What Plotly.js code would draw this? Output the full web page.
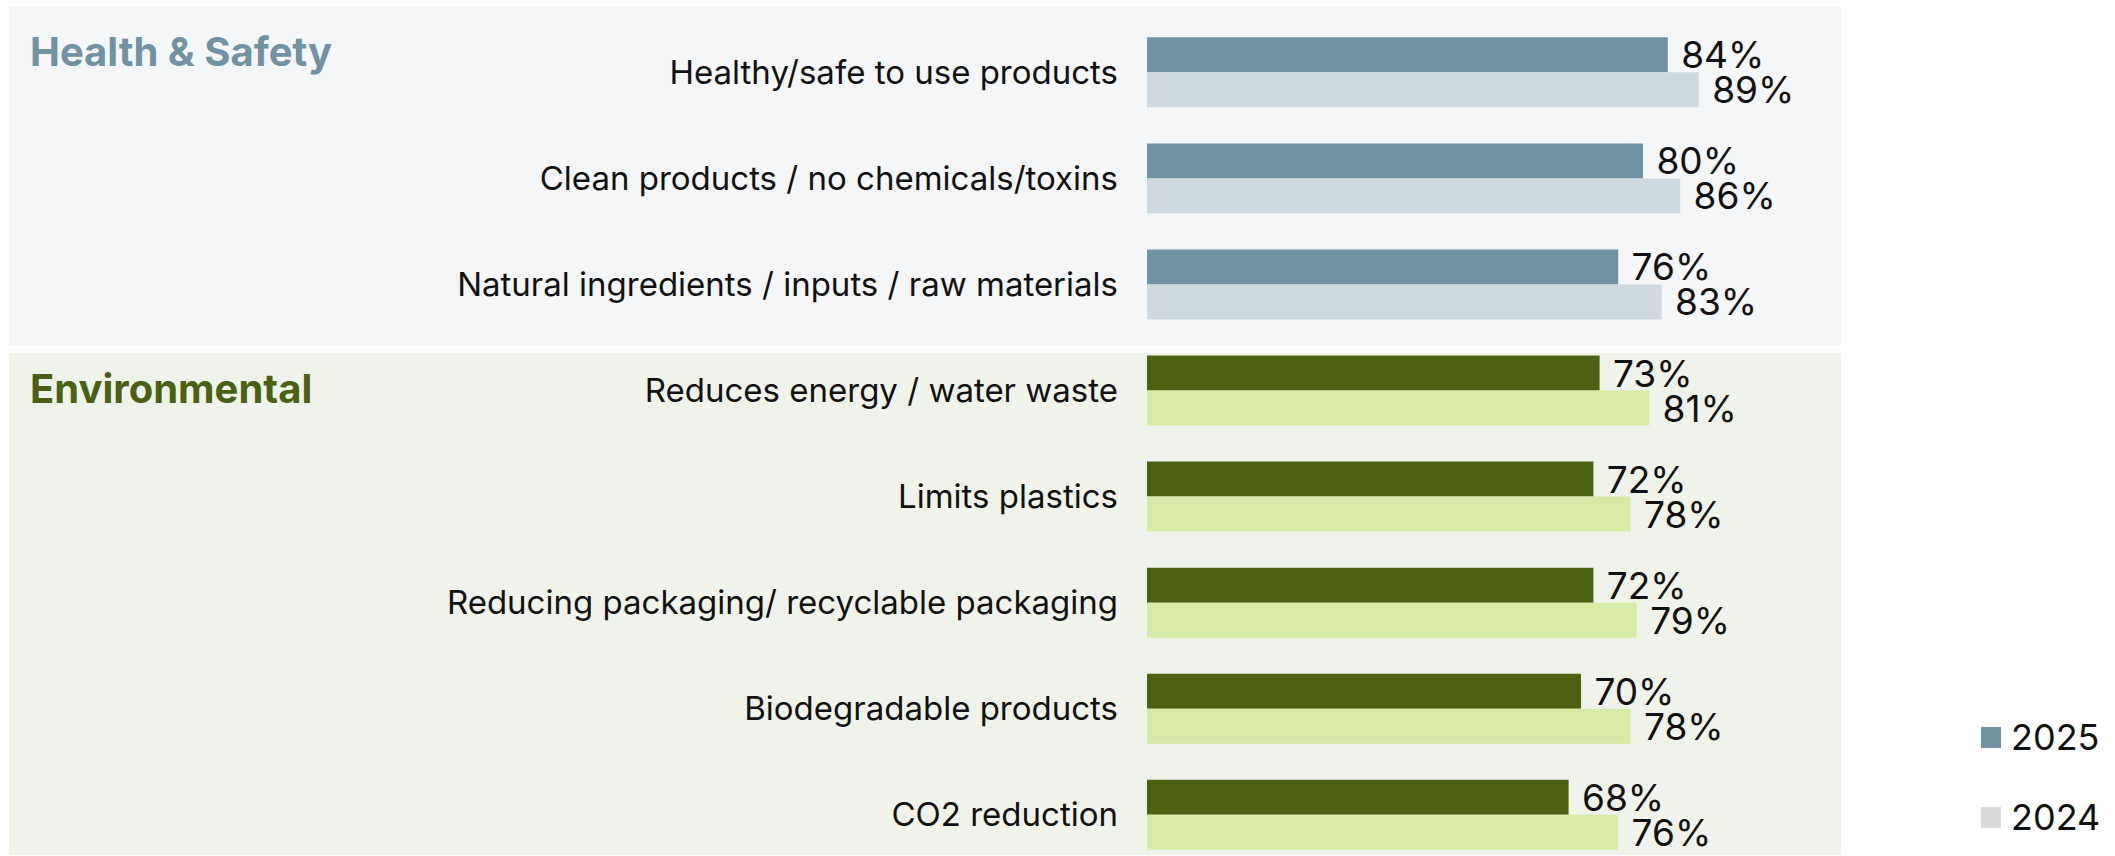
<!DOCTYPE html>
<html>
<head>
<meta charset="utf-8">
<script src="https://cdn.plot.ly/plotly-3.0.1.min.js"></script>
<style>
  html, body { margin: 0; padding: 0; background: #fff; }
  #chart { width: 2115px; height: 856px; }
</style>
</head>
<body>
<div id="chart"></div>
<script>
var config = { responsive: false, displayModeBar: false }

// Data
var categories = [
    'Healthy/safe to use products',
    'Clean products / no chemicals/toxins',
    'Natural ingredients / inputs / raw materials',
    'Reduces energy / water waste',
    'Limits plastics',
    'Reducing packaging/ recyclable packaging',
    'Biodegradable products',
    'CO2 reduction'
];
var groups = ['Health & Safety', 'Health & Safety', 'Health & Safety',
    'Environmental', 'Environmental', 'Environmental', 'Environmental', 'Environmental'];
var values2025 = [84, 80, 76, 73, 72, 72, 70, 68];
var values2024 = [89, 86, 83, 81, 78, 79, 78, 76];
var legendNames = ['2025', '2024'];

// Colours
var colors = {
    'Health & Safety': { dark: '#7092A2', light: '#CFDAE0', title: '#7092A2', bg: '#F4F6F8' },
    'Environmental': { dark: '#4A6114', light: '#D6EBA5', title: '#4A6114', bg: '#F0F3EA' }
};
var legendColors = ['#7092A2', '#D9D9D9'];

var W = 2115, H = 856;
var FONT = 'Inter, "Open Sans", sans-serif';

// helpers for pixel -> paper coords
function px(x) { return x / W; }
function py(y) { return 1 - y / H; }

var data = [
    {
        type: 'bar',
        orientation: 'h',
        name: legendNames[0],
        y: categories,
        x: values2025,
        marker: { color: groups.map(g => colors[g].dark) },
        texttemplate: '\u00A0%{x}%',
        textposition: 'outside',
        constraintext: 'none',
        cliponaxis: false,
        textfont: { family: FONT, size: 37, color: '#111' },
        hoverinfo: 'skip',
        showlegend: false
    },
    {
        type: 'bar',
        orientation: 'h',
        name: legendNames[1],
        y: categories,
        x: values2024,
        marker: { color: groups.map(g => colors[g].light) },
        texttemplate: '\u00A0%{x}%',
        textposition: 'outside',
        constraintext: 'none',
        cliponaxis: false,
        textfont: { family: FONT, size: 37, color: '#111' },
        hoverinfo: 'skip',
        showlegend: false
    }
];

// background panels for the two groups
var shapes = [
    { type: 'rect', xref: 'paper', yref: 'paper', layer: 'below', line: { width: 0 },
      x0: px(9), x1: px(1841), y0: py(7), y1: py(345), fillcolor: colors['Health & Safety'].bg },
    { type: 'rect', xref: 'paper', yref: 'paper', layer: 'below', line: { width: 0 },
      x0: px(9), x1: px(1841), y0: py(353), y1: py(855), fillcolor: colors['Environmental'].bg }
];

// legend swatches
legendNames.forEach(function (n, i) {
    var top = 727 + i * 80;
    shapes.push({ type: 'rect', xref: 'paper', yref: 'paper', line: { width: 0 },
        x0: px(1981), x1: px(2001), y0: py(top), y1: py(top + 21), fillcolor: legendColors[i] });
});

var annotations = [
    { text: '<b>Health & Safety</b>', xref: 'paper', yref: 'paper', x: px(28), y: py(52),
      xanchor: 'left', yanchor: 'middle', showarrow: false,
      font: { family: FONT, size: 40, color: colors['Health & Safety'].title } },
    { text: '<b>Environmental</b>', xref: 'paper', yref: 'paper', x: px(28), y: py(388),
      xanchor: 'left', yanchor: 'middle', showarrow: false,
      font: { family: FONT, size: 40, color: colors['Environmental'].title } }
];
legendNames.forEach(function (n, i) {
    annotations.push({ text: n, xref: 'paper', yref: 'paper', x: px(2009), y: py(737 + i * 80),
        xanchor: 'left', yanchor: 'middle', showarrow: false,
        font: { family: FONT, size: 36, color: '#111' } });
});

var layout = {
    width: W,
    height: H,
    paper_bgcolor: '#fff',
    plot_bgcolor: 'rgba(0,0,0,0)',
    margin: { l: 0, r: 0, t: 0, b: 0, pad: 0 },
    barmode: 'group',
    bargap: 0.34,
    bargroupgap: 0,
    showlegend: false,
    font: { family: FONT, color: '#111' },
    xaxis: {
        domain: [px(1147), px(1767)],
        range: [0, 100],
        visible: false,
        fixedrange: true
    },
    yaxis: {
        type: 'category',
        range: [7.389, -0.682],
        showgrid: false,
        zeroline: false,
        showline: false,
        ticks: '',
        ticklabelstandoff: 28,
        tickfont: { family: FONT, size: 33, color: '#111' },
        fixedrange: true
    },
    shapes: shapes,
    annotations: annotations
};

Plotly.newPlot('chart', data, layout, config);
</script>
</body>
</html>
